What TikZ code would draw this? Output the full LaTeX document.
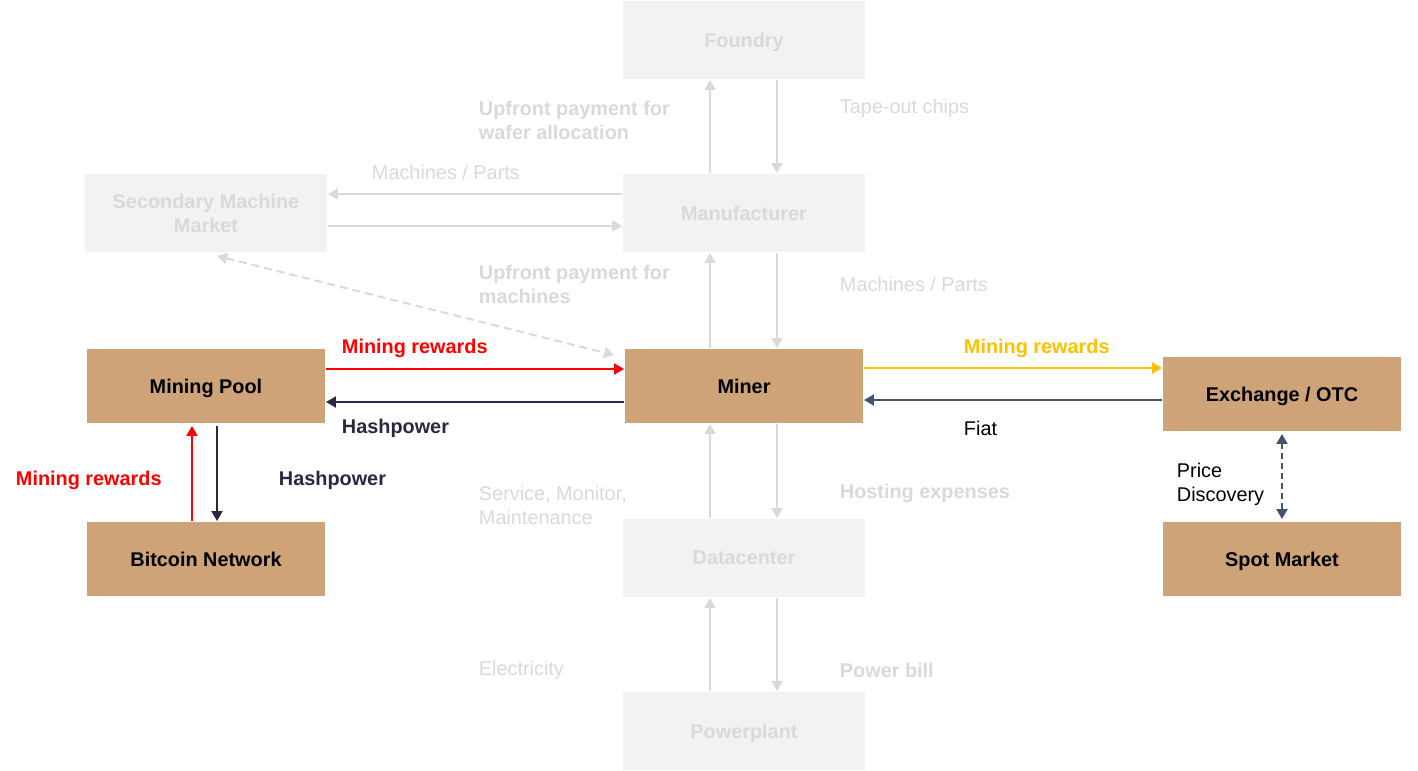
\documentclass[tikz,border=0pt]{standalone}
\usepackage{fontspec}
\setmainfont{Liberation Sans}
\usepackage{tikz}
\usetikzlibrary{arrows.meta}
\definecolor{tanfill}{RGB}{207,163,120}
\definecolor{fadefill}{RGB}{242,242,242}
\definecolor{fadetext}{RGB}{217,217,217}
\definecolor{hashdark}{RGB}{46,38,64}
\definecolor{slate}{RGB}{68,84,106}
\definecolor{gold}{RGB}{255,192,0}
\definecolor{redline}{RGB}{255,0,0}

\begin{document}
\begin{tikzpicture}[>={Triangle[length=0.2cm,width=0.22cm]},line width=1.1pt,node distance=3.46cm,
font=\fontsize{11.3pt}{13.6pt}\selectfont,
main node/.style={rectangle,fill=tanfill,minimum width=4.76cm,minimum height=1.48cm,inner sep=0pt,text depth=0pt,font=\fontsize{11.3pt}{13.6pt}\selectfont\bfseries},
faded node/.style={rectangle,fill=fadefill,text=fadetext,minimum width=4.84cm,minimum height=1.56cm,inner sep=0pt,align=center,text depth=0pt,font=\fontsize{11.3pt}{13.6pt}\selectfont\bfseries},
edge label/.style={anchor=west,inner sep=0pt,align=left,yshift=-0.04cm},
faded line/.style={draw=fadetext}]
\useasboundingbox (0,0) rectangle (28.36,-15.4);

\node[main node] (miner) at (14.88,-7.72) {Miner};
\node[faded node] (manuf) [above of=miner] {Manufacturer};
\node[faded node] (foundry) [above of=manuf] {Foundry};
\node[faded node] (datac) [below of=miner, node distance=3.44cm] {Datacenter};
\node[faded node] (plant) [below of=datac] {Powerplant};
\node[main node] (pool) [left of=miner, node distance=10.76cm] {Mining Pool};
\node[main node] (btc) [below of=pool] {Bitcoin Network};
\node[faded node] (second) [above of=pool] {Secondary Machine\\Market};
\node[main node] (exch) [right of=miner, node distance=10.76cm, yshift=-0.16cm] {Exchange / OTC};
\node[main node] (spot) [below of=exch, node distance=3.3cm] {Spot Market};

% central column
\draw[->,faded line] ([xshift=-0.68cm]manuf.north) -- ([xshift=-0.68cm]manuf.north |- foundry.south);
\draw[->,faded line] ([xshift=0.66cm]foundry.south) -- ([xshift=0.66cm]foundry.south |- manuf.north);
\draw[->,faded line] ([xshift=-0.68cm]miner.north) -- ([xshift=-0.68cm]miner.north |- manuf.south);
\draw[->,faded line] ([xshift=0.66cm]manuf.south) -- ([xshift=0.66cm]manuf.south |- miner.north);
\draw[->,faded line] ([xshift=-0.68cm]datac.north) -- ([xshift=-0.68cm]datac.north |- miner.south);
\draw[->,faded line] ([xshift=0.66cm]miner.south) -- ([xshift=0.66cm]miner.south |- datac.north);
\draw[->,faded line] ([xshift=-0.68cm]plant.north) -- ([xshift=-0.68cm]plant.north |- datac.south);
\draw[->,faded line] ([xshift=0.66cm]datac.south) -- ([xshift=0.66cm]datac.south |- plant.north);

% secondary market
\draw[->,faded line] ([yshift=0.38cm]manuf.west) -- ([yshift=0.38cm]manuf.west -| second.east);
\draw[->,faded line] ([yshift=-0.26cm]second.east) -- ([yshift=-0.26cm]second.east -| manuf.west);
\draw[<->,faded line,dash pattern=on 0.16cm off 0.1cm] ([xshift=0.22cm,yshift=-0.06cm]second.south) -- ([xshift=-0.2cm,yshift=-0.14cm]miner.north west);

% pool and network
\draw[->,redline] ([yshift=0.34cm]pool.east) -- ([yshift=0.34cm]pool.east -| miner.west);
\draw[->,hashdark] ([yshift=-0.32cm]miner.west) -- ([yshift=-0.32cm]miner.west -| pool.east);
\draw[->,redline] ([xshift=-0.28cm]btc.north) -- ([xshift=-0.28cm,yshift=-0.04cm]pool.south);
\draw[->,hashdark] ([xshift=0.22cm,yshift=-0.04cm]pool.south) -- ([xshift=0.22cm]btc.north);

% exchange
\draw[->,gold] ([yshift=0.36cm]miner.east) -- ([yshift=0.36cm]miner.east -| exch.west);
\draw[->,slate] ([yshift=-0.12cm]exch.west) -- ([yshift=-0.12cm]exch.west -| miner.east);
\draw[<->,slate,dash pattern=on 0.12cm off 0.08cm] ([yshift=-0.04cm]exch.south) -- ([yshift=0.04cm]spot.north);

% labels
\node[edge label,text=fadetext,font=\fontsize{11.3pt}{13.6pt}\selectfont\bfseries] (lwafer) at (9.56,-2.36) {Upfront payment for\\wafer allocation};
\node[edge label,text=fadetext] (ltape) at (16.78,-2.12) {Tape-out chips};
\node[edge label,text=fadetext] (lparts1) at (7.42,-3.4) {Machines / Parts};
\node[edge label,text=fadetext,font=\fontsize{11.3pt}{13.6pt}\selectfont\bfseries] (lupmach) at (9.56,-5.64) {Upfront payment for\\machines};
\node[edge label,text=fadetext] (lparts2) at (16.78,-5.64) {Machines / Parts};
\node[edge label,text=redline,font=\fontsize{11.3pt}{13.6pt}\selectfont\bfseries] (lrew1) at (6.82,-6.92) {Mining rewards};
\node[edge label,text=hashdark,font=\fontsize{11.3pt}{13.6pt}\selectfont\bfseries] (lhash1) at (6.82,-8.52) {Hashpower};
\node[edge label,text=gold,font=\fontsize{11.3pt}{13.6pt}\selectfont\bfseries] (lrew2) at (19.26,-6.92) {Mining rewards};
\node[edge label] (lfiat) at (19.26,-8.52) {Fiat};
\node[edge label,text=redline,font=\fontsize{11.3pt}{13.6pt}\selectfont\bfseries] (lrew3) at (0.3,-9.56) {Mining rewards};
\node[edge label,text=hashdark,font=\fontsize{11.3pt}{13.6pt}\selectfont\bfseries] (lhash2) at (5.56,-9.56) {Hashpower};
\node[edge label,text=fadetext] (lservice) at (9.56,-10.06) {Service, Monitor,\\Maintenance};
\node[edge label,text=fadetext,font=\fontsize{11.3pt}{13.6pt}\selectfont\bfseries] (lhost) at (16.78,-9.82) {Hosting expenses};
\node[edge label] (lprice) at (23.52,-9.64) {Price\\Discovery};
\node[edge label,text=fadetext] (lelec) at (9.56,-13.36) {Electricity};
\node[edge label,text=fadetext,font=\fontsize{11.3pt}{13.6pt}\selectfont\bfseries] (lbill) at (16.78,-13.36) {Power bill};
\end{tikzpicture}
\end{document}
